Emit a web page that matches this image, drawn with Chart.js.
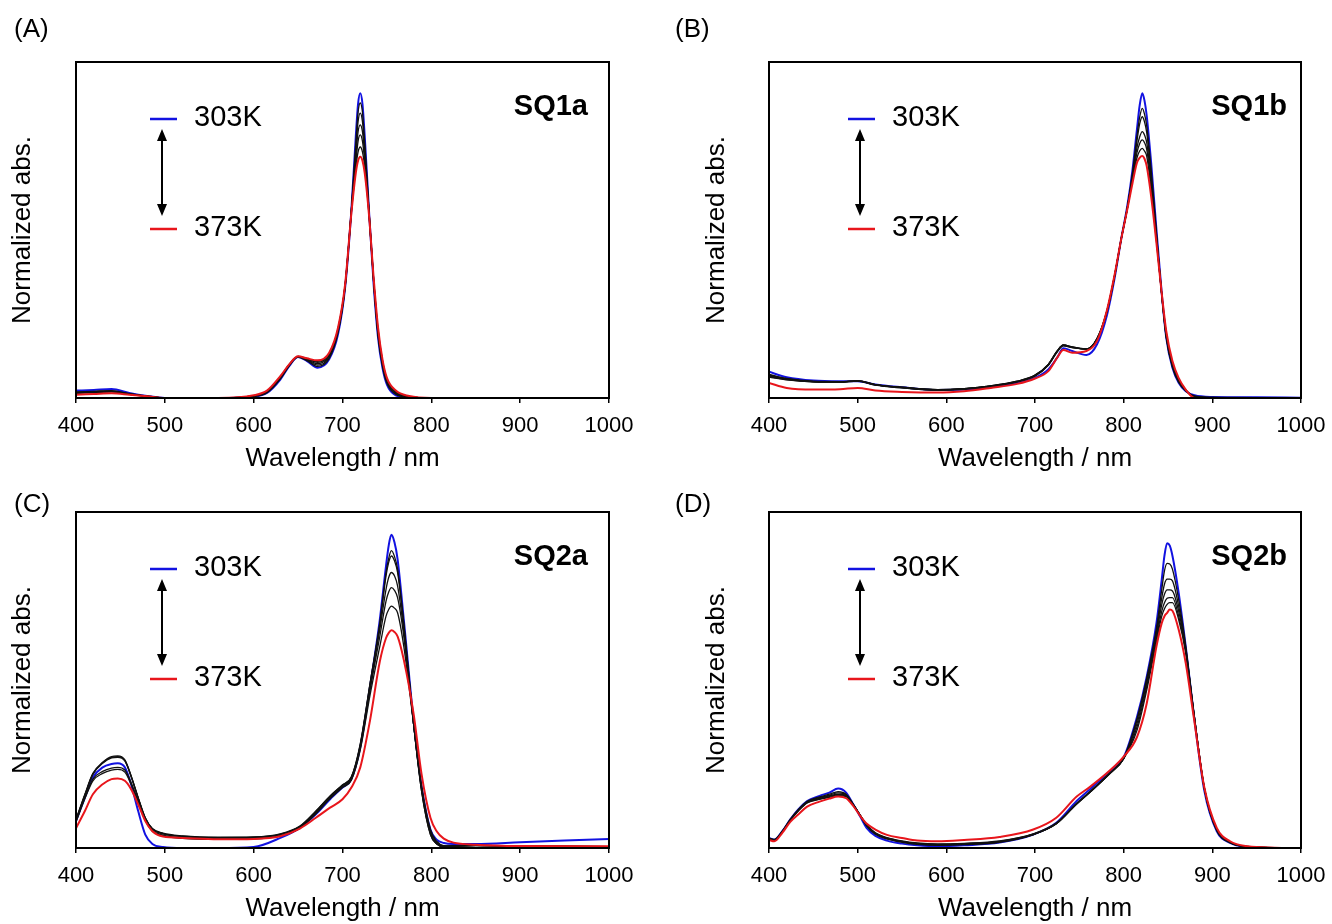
<!DOCTYPE html>
<html>
<head>
<meta charset="utf-8">
<script src="https://cdn.jsdelivr.net/npm/chart.js@4.4.1/dist/chart.umd.min.js"></script>
<style>
  body { margin: 0; background: #fff; }
  #wrap { position: relative; width: 1332px; height: 924px; overflow: hidden; }
  #wrap canvas { position: absolute; }
  .tag { position: absolute; font: 26px "Liberation Sans", Arial, sans-serif; color: #000; line-height: 26px; }
</style>
</head>
<body>
<div id="wrap">
  <canvas id="pA" width="666" height="474" style="left:0;top:0"></canvas>
  <canvas id="pB" width="666" height="474" style="left:666px;top:0"></canvas>
  <canvas id="pC" width="666" height="474" style="left:0;top:450px"></canvas>
  <canvas id="pD" width="666" height="474" style="left:666px;top:450px"></canvas>
  <div class="tag" style="left:14px;top:15px">(A)</div>
  <div class="tag" style="left:675px;top:15px">(B)</div>
  <div class="tag" style="left:14px;top:490px">(C)</div>
  <div class="tag" style="left:675px;top:490px">(D)</div>
</div>
<script>
// wavelength grids (nm) and normalized absorbance, 303K first, 373K last
const wlSQ1a = [400, 420, 440, 460, 480, 500, 560, 600, 615, 630, 640, 650, 660, 672, 685, 695, 703, 710, 715, 717.5, 720, 722.5, 725, 730, 735, 740, 745, 750, 760, 775, 800, 900, 1000];
const sq1a_303K = [0.022, 0.024, 0.027, 0.015, 0.006, 0.0, 0.0, 0.004, 0.015, 0.055, 0.095, 0.122, 0.110, 0.090, 0.115, 0.190, 0.330, 0.560, 0.780, 0.875, 0.907, 0.875, 0.780, 0.550, 0.340, 0.180, 0.090, 0.040, 0.008, 0.001, 0, 0, 0];
const sq1a_mid = [
  [0.018, 0.020, 0.022, 0.013, 0.006, 0.0, 0.0, 0.005, 0.016, 0.057, 0.096, 0.122, 0.111, 0.094, 0.118, 0.195, 0.330, 0.560, 0.760, 0.850, 0.878, 0.850, 0.760, 0.550, 0.345, 0.185, 0.095, 0.044, 0.011, 0.002, 0, 0, 0],
  [0.017, 0.019, 0.021, 0.012, 0.005, 0.0, 0.0, 0.005, 0.017, 0.058, 0.097, 0.123, 0.113, 0.098, 0.122, 0.198, 0.333, 0.560, 0.740, 0.822, 0.848, 0.822, 0.745, 0.550, 0.350, 0.190, 0.100, 0.048, 0.013, 0.003, 0, 0, 0],
  [0.016, 0.018, 0.020, 0.012, 0.005, 0.0, 0.0, 0.006, 0.018, 0.060, 0.098, 0.123, 0.114, 0.102, 0.126, 0.202, 0.335, 0.560, 0.720, 0.792, 0.813, 0.792, 0.725, 0.545, 0.350, 0.195, 0.104, 0.051, 0.016, 0.004, 0, 0, 0],
  [0.015, 0.017, 0.019, 0.011, 0.005, 0.0, 0.0, 0.007, 0.019, 0.062, 0.099, 0.124, 0.116, 0.106, 0.130, 0.205, 0.337, 0.555, 0.700, 0.764, 0.783, 0.764, 0.705, 0.545, 0.355, 0.200, 0.108, 0.054, 0.018, 0.005, 0, 0, 0],
  [0.014, 0.016, 0.018, 0.011, 0.005, 0.0, 0.0, 0.007, 0.020, 0.063, 0.100, 0.124, 0.117, 0.109, 0.132, 0.207, 0.338, 0.552, 0.685, 0.732, 0.747, 0.732, 0.688, 0.540, 0.355, 0.205, 0.112, 0.057, 0.020, 0.005, 0, 0, 0]
];
const sq1a_373K = [0.010, 0.012, 0.014, 0.010, 0.005, 0.0, 0.0, 0.008, 0.022, 0.065, 0.100, 0.124, 0.118, 0.112, 0.135, 0.210, 0.340, 0.550, 0.670, 0.706, 0.718, 0.706, 0.670, 0.540, 0.360, 0.210, 0.115, 0.060, 0.022, 0.006, 0, 0, 0];

const wlSQ1b = [400, 420, 450, 480, 500, 520, 550, 590, 620, 650, 680, 700, 715, 725, 732, 742, 758, 770, 781, 790, 797, 804, 810, 815, 818, 821, 823.5, 826, 831, 837, 843, 848, 855, 862, 870, 880, 900, 950, 1000];
const sq1b_303K = [0.078, 0.062, 0.052, 0.050, 0.050, 0.040, 0.032, 0.024, 0.025, 0.032, 0.045, 0.060, 0.085, 0.120, 0.148, 0.140, 0.128, 0.160, 0.245, 0.360, 0.470, 0.570, 0.680, 0.800, 0.870, 0.907, 0.885, 0.840, 0.700, 0.500, 0.310, 0.180, 0.090, 0.045, 0.020, 0.008, 0.003, 0.002, 0.001];
const sq1b_mid = [
  [0.070, 0.058, 0.050, 0.049, 0.052, 0.040, 0.032, 0.025, 0.028, 0.036, 0.050, 0.068, 0.100, 0.140, 0.158, 0.152, 0.145, 0.175, 0.255, 0.365, 0.470, 0.565, 0.670, 0.780, 0.835, 0.862, 0.845, 0.810, 0.680, 0.490, 0.305, 0.180, 0.092, 0.047, 0.021, 0.006, 0.002, 0.001, 0.001],
  [0.068, 0.057, 0.049, 0.048, 0.051, 0.040, 0.032, 0.025, 0.028, 0.036, 0.050, 0.068, 0.100, 0.140, 0.158, 0.152, 0.146, 0.176, 0.256, 0.366, 0.470, 0.565, 0.665, 0.765, 0.815, 0.837, 0.822, 0.790, 0.665, 0.485, 0.305, 0.182, 0.094, 0.049, 0.022, 0.005, 0.002, 0.001, 0.001],
  [0.066, 0.056, 0.049, 0.048, 0.051, 0.039, 0.031, 0.024, 0.027, 0.035, 0.049, 0.067, 0.099, 0.139, 0.157, 0.151, 0.146, 0.176, 0.257, 0.367, 0.470, 0.563, 0.660, 0.745, 0.777, 0.793, 0.783, 0.760, 0.650, 0.478, 0.305, 0.185, 0.097, 0.051, 0.023, 0.004, 0.001, 0.001, 0.001],
  [0.064, 0.055, 0.048, 0.047, 0.050, 0.039, 0.031, 0.024, 0.027, 0.035, 0.049, 0.066, 0.098, 0.138, 0.156, 0.150, 0.146, 0.177, 0.258, 0.368, 0.470, 0.562, 0.655, 0.730, 0.757, 0.768, 0.760, 0.740, 0.635, 0.472, 0.306, 0.190, 0.100, 0.054, 0.024, 0.003, 0.001, 0.001, 0.001],
  [0.062, 0.054, 0.048, 0.047, 0.050, 0.038, 0.030, 0.023, 0.026, 0.034, 0.048, 0.065, 0.097, 0.137, 0.155, 0.150, 0.146, 0.178, 0.259, 0.369, 0.470, 0.561, 0.650, 0.715, 0.735, 0.743, 0.735, 0.720, 0.620, 0.466, 0.307, 0.195, 0.104, 0.057, 0.024, 0.002, 0.001, 0.001, 0.001]
];
const sq1b_373K = [0.045, 0.030, 0.025, 0.026, 0.030, 0.022, 0.018, 0.016, 0.020, 0.030, 0.042, 0.058, 0.080, 0.120, 0.143, 0.135, 0.140, 0.170, 0.260, 0.370, 0.470, 0.560, 0.640, 0.700, 0.715, 0.720, 0.712, 0.690, 0.600, 0.460, 0.310, 0.200, 0.110, 0.060, 0.025, 0.0, 0.0, 0.0, 0.0];

const wlSQ2a = [400, 410, 419, 430, 440, 447, 455, 462, 470, 478, 486, 498, 520, 560, 600, 630, 652, 670, 686, 700, 710, 720, 731, 742, 749, 752, 755, 758.5, 762, 769, 780, 789, 799, 806, 814, 825, 850, 900, 1000];
const sq2a_303K = [0.080, 0.150, 0.210, 0.240, 0.250, 0.252, 0.240, 0.190, 0.110, 0.040, 0.012, 0.003, 0.0, 0.0, 0.003, 0.030, 0.060, 0.100, 0.145, 0.180, 0.205, 0.300, 0.480, 0.680, 0.840, 0.900, 0.932, 0.910, 0.860, 0.680, 0.380, 0.185, 0.055, 0.025, 0.015, 0.012, 0.012, 0.017, 0.027];
const sq2a_mid = [
  [0.085, 0.160, 0.222, 0.255, 0.272, 0.274, 0.262, 0.215, 0.150, 0.090, 0.058, 0.044, 0.036, 0.032, 0.033, 0.042, 0.065, 0.110, 0.155, 0.188, 0.212, 0.310, 0.490, 0.670, 0.820, 0.862, 0.885, 0.868, 0.830, 0.670, 0.370, 0.170, 0.040, 0.012, 0.004, 0.006, 0.008, 0.006, 0.004],
  [0.084, 0.158, 0.220, 0.254, 0.270, 0.272, 0.261, 0.214, 0.149, 0.089, 0.057, 0.043, 0.035, 0.031, 0.032, 0.041, 0.064, 0.109, 0.154, 0.187, 0.211, 0.308, 0.488, 0.665, 0.810, 0.850, 0.869, 0.855, 0.820, 0.665, 0.370, 0.170, 0.040, 0.012, 0.004, 0.006, 0.008, 0.006, 0.004],
  [0.083, 0.157, 0.219, 0.252, 0.268, 0.270, 0.259, 0.213, 0.148, 0.088, 0.056, 0.042, 0.034, 0.030, 0.031, 0.040, 0.063, 0.107, 0.152, 0.185, 0.208, 0.303, 0.480, 0.650, 0.770, 0.805, 0.820, 0.810, 0.780, 0.645, 0.370, 0.175, 0.045, 0.015, 0.005, 0.006, 0.008, 0.006, 0.004],
  [0.080, 0.150, 0.205, 0.228, 0.238, 0.240, 0.232, 0.195, 0.140, 0.085, 0.052, 0.038, 0.030, 0.027, 0.028, 0.037, 0.060, 0.104, 0.149, 0.182, 0.205, 0.298, 0.470, 0.630, 0.735, 0.762, 0.775, 0.767, 0.745, 0.630, 0.370, 0.180, 0.050, 0.018, 0.006, 0.006, 0.007, 0.005, 0.004],
  [0.078, 0.147, 0.200, 0.222, 0.232, 0.234, 0.226, 0.190, 0.137, 0.083, 0.050, 0.036, 0.029, 0.026, 0.027, 0.036, 0.059, 0.102, 0.147, 0.180, 0.202, 0.292, 0.455, 0.600, 0.690, 0.710, 0.720, 0.714, 0.700, 0.600, 0.370, 0.185, 0.055, 0.020, 0.007, 0.006, 0.007, 0.005, 0.004]
];
const sq2a_373K = [0.059, 0.110, 0.160, 0.190, 0.205, 0.207, 0.200, 0.175, 0.130, 0.080, 0.050, 0.034, 0.030, 0.026, 0.027, 0.035, 0.058, 0.090, 0.120, 0.145, 0.180, 0.240, 0.380, 0.555, 0.625, 0.640, 0.648, 0.643, 0.630, 0.560, 0.400, 0.220, 0.090, 0.050, 0.028, 0.016, 0.010, 0.006, 0.005];

const wlSQ2b = [400, 406, 415, 424, 433, 443, 457, 468, 478, 487, 495, 503, 510, 520, 533, 550, 567, 590, 620, 660, 698, 724, 747, 762, 785, 800, 815, 826, 837, 843, 846, 849, 852, 855, 862, 870, 879, 891, 905, 920, 940, 970, 1000];
const sq2b_303K = [0.030, 0.025, 0.050, 0.085, 0.115, 0.140, 0.155, 0.165, 0.177, 0.165, 0.130, 0.093, 0.060, 0.036, 0.022, 0.013, 0.008, 0.005, 0.008, 0.016, 0.040, 0.075, 0.140, 0.175, 0.230, 0.270, 0.390, 0.510, 0.670, 0.800, 0.870, 0.907, 0.900, 0.870, 0.760, 0.600, 0.400, 0.170, 0.050, 0.015, 0.003, 0.0, 0.0];
const sq2b_mid = [
  [0.029, 0.025, 0.050, 0.085, 0.114, 0.139, 0.152, 0.160, 0.168, 0.160, 0.130, 0.096, 0.066, 0.041, 0.027, 0.017, 0.011, 0.008, 0.010, 0.017, 0.040, 0.072, 0.133, 0.168, 0.225, 0.268, 0.385, 0.505, 0.655, 0.770, 0.825, 0.847, 0.845, 0.830, 0.740, 0.600, 0.405, 0.175, 0.052, 0.016, 0.004, 0.001, 0.0],
  [0.029, 0.025, 0.049, 0.084, 0.113, 0.137, 0.150, 0.157, 0.164, 0.158, 0.130, 0.097, 0.067, 0.042, 0.028, 0.018, 0.012, 0.009, 0.011, 0.018, 0.040, 0.072, 0.132, 0.167, 0.224, 0.267, 0.380, 0.500, 0.645, 0.745, 0.785, 0.800, 0.800, 0.795, 0.720, 0.595, 0.405, 0.177, 0.053, 0.016, 0.004, 0.001, 0.0],
  [0.028, 0.024, 0.049, 0.084, 0.112, 0.136, 0.148, 0.155, 0.160, 0.156, 0.129, 0.097, 0.068, 0.043, 0.029, 0.019, 0.013, 0.010, 0.012, 0.019, 0.040, 0.072, 0.131, 0.166, 0.223, 0.266, 0.370, 0.490, 0.635, 0.725, 0.755, 0.768, 0.768, 0.765, 0.705, 0.590, 0.405, 0.178, 0.054, 0.017, 0.004, 0.001, 0.0],
  [0.028, 0.024, 0.048, 0.083, 0.111, 0.135, 0.146, 0.153, 0.158, 0.154, 0.129, 0.097, 0.069, 0.044, 0.030, 0.020, 0.014, 0.011, 0.013, 0.020, 0.041, 0.073, 0.131, 0.166, 0.223, 0.266, 0.360, 0.480, 0.625, 0.705, 0.730, 0.743, 0.745, 0.745, 0.690, 0.585, 0.405, 0.179, 0.055, 0.017, 0.004, 0.001, 0.0],
  [0.027, 0.023, 0.048, 0.082, 0.110, 0.134, 0.145, 0.151, 0.156, 0.153, 0.128, 0.096, 0.070, 0.045, 0.031, 0.021, 0.015, 0.012, 0.014, 0.021, 0.042, 0.074, 0.132, 0.167, 0.223, 0.266, 0.350, 0.470, 0.615, 0.690, 0.712, 0.725, 0.730, 0.730, 0.680, 0.580, 0.400, 0.180, 0.056, 0.018, 0.005, 0.001, 0.0]
];
const sq2b_373K = [0.024, 0.020, 0.045, 0.078, 0.100, 0.123, 0.138, 0.147, 0.153, 0.148, 0.125, 0.095, 0.073, 0.055, 0.039, 0.030, 0.022, 0.020, 0.024, 0.033, 0.055, 0.090, 0.153, 0.182, 0.232, 0.272, 0.330, 0.430, 0.600, 0.670, 0.690, 0.700, 0.710, 0.706, 0.650, 0.550, 0.390, 0.180, 0.060, 0.020, 0.005, 0.001, 0.0];

const xTicks = [400, 500, 600, 700, 800, 900, 1000];

const BLUE = 'rgb(18, 18, 225)';
const RED = 'rgb(232, 22, 28)';
const BLACK = '#111';

Chart.defaults.font.family = "'Liberation Sans', Arial, Helvetica, sans-serif";
Chart.defaults.color = '#000';

// box around the plot area
const frame = {
  id: 'frame',
  afterDraw(chart) {
    const { ctx, chartArea: a } = chart;
    ctx.save();
    ctx.strokeStyle = '#000';
    ctx.lineWidth = 2;
    ctx.strokeRect(a.left, a.top, a.right - a.left, a.bottom - a.top);
    ctx.restore();
  }
};

// temperature key (303K -> 373K with arrow) and sample name
const tempKey = {
  id: 'tempKey',
  afterDraw(chart, args, opts) {
    const { ctx, chartArea: a } = chart;
    const x0 = a.left + opts.dx;
    const yTop = a.top + 57, yBot = a.top + 167;
    ctx.save();
    ctx.lineWidth = 2.5;
    ctx.strokeStyle = BLUE;
    ctx.beginPath(); ctx.moveTo(x0, yTop); ctx.lineTo(x0 + 27, yTop); ctx.stroke();
    ctx.strokeStyle = RED;
    ctx.beginPath(); ctx.moveTo(x0, yBot); ctx.lineTo(x0 + 27, yBot); ctx.stroke();

    ctx.fillStyle = '#000';
    ctx.font = "29px 'Liberation Sans', Arial, sans-serif";
    ctx.textBaseline = 'middle';
    ctx.textAlign = 'left';
    ctx.fillText('303K', x0 + 44, yTop - 1);
    ctx.fillText('373K', x0 + 44, yBot - 1);

    // double-headed arrow
    const ax = x0 + 12, ay1 = a.top + 67, ay2 = a.top + 154;
    ctx.strokeStyle = '#000';
    ctx.lineWidth = 2;
    ctx.beginPath(); ctx.moveTo(ax, ay1 + 8); ctx.lineTo(ax, ay2 - 8); ctx.stroke();
    ctx.beginPath();
    ctx.moveTo(ax, ay1); ctx.lineTo(ax - 5, ay1 + 12); ctx.lineTo(ax + 5, ay1 + 12); ctx.closePath();
    ctx.moveTo(ax, ay2); ctx.lineTo(ax - 5, ay2 - 12); ctx.lineTo(ax + 5, ay2 - 12); ctx.closePath();
    ctx.fill();

    ctx.font = "bold 29px 'Liberation Sans', Arial, sans-serif";
    ctx.textAlign = 'right';
    ctx.fillText(opts.name, a.right - opts.nameRight, a.top + 45);
    ctx.restore();
  }
};

function curve(wl, vals, color, width) {
  return {
    data: wl.map((x, i) => ({ x: x, y: vals[i] })),
    borderColor: color,
    borderWidth: width,
    pointRadius: 0,
    fill: false,
    cubicInterpolationMode: 'monotone'
  };
}

function makePanel(id, wl, first, mid, last, p) {
  // dataset 0 is painted on top, so 373K goes first and 303K last
  const sets = [curve(wl, last, RED, 2)];
  mid.slice().reverse().forEach(v => sets.push(curve(wl, v, BLACK, 1.3)));
  sets.push(curve(wl, first, BLUE, 2));

  new Chart(document.getElementById(id), {
    type: 'line',
    data: { datasets: sets },
    plugins: [frame, tempKey],
    options: {
      responsive: false,
      animation: false,
      devicePixelRatio: 1,
      layout: { padding: { left: 0, right: p.padRight, top: 62, bottom: 0 } },
      plugins: {
        legend: { display: false },
        tooltip: { enabled: false },
        tempKey: { dx: p.keyDx, name: p.name, nameRight: p.nameRight }
      },
      scales: {
        x: {
          type: 'linear',
          min: 400,
          max: 1000,
          afterBuildTicks: s => { s.ticks = xTicks.map(v => ({ value: v })); },
          // fixed axis band; edge labels may spill into the margins
          afterFit: s => { s.height = 76; s.paddingLeft = 0; s.paddingRight = 0; },
          ticks: { font: { size: 22 }, color: '#000', padding: 10, maxRotation: 0, autoSkip: false, callback: v => String(v) },
          grid: { display: true, drawOnChartArea: false, drawTicks: true, tickLength: 5, color: '#000', lineWidth: 1.5 },
          border: { display: true, color: '#000', width: 2 },
          title: { display: true, text: 'Wavelength / nm', font: { size: 26 }, color: '#000', padding: { top: 0, bottom: 0 } }
        },
        y: {
          type: 'linear',
          min: 0,
          max: 1,
          afterFit: s => { s.width = p.yWidth; s.paddingTop = 0; s.paddingBottom = 0; },
          ticks: { display: false },
          grid: { display: false },
          border: { display: true, color: '#000', width: 2 },
          title: { display: true, text: 'Normalized abs.', font: { size: 26 }, color: '#000', padding: { top: p.yTitlePad, bottom: 0 } }
        }
      }
    }
  });
}

const leftCol = { yWidth: 76, padRight: 57, yTitlePad: 7, keyDx: 74, nameRight: 21 };
const rightCol = { yWidth: 103, padRight: 31, yTitlePad: 35, keyDx: 79, nameRight: 14 };

makePanel('pA', wlSQ1a, sq1a_303K, sq1a_mid, sq1a_373K, Object.assign({ name: 'SQ1a' }, leftCol));
makePanel('pB', wlSQ1b, sq1b_303K, sq1b_mid, sq1b_373K, Object.assign({ name: 'SQ1b' }, rightCol));
makePanel('pC', wlSQ2a, sq2a_303K, sq2a_mid, sq2a_373K, Object.assign({ name: 'SQ2a' }, leftCol));
makePanel('pD', wlSQ2b, sq2b_303K, sq2b_mid, sq2b_373K, Object.assign({ name: 'SQ2b' }, rightCol));
</script>
</body>
</html>
